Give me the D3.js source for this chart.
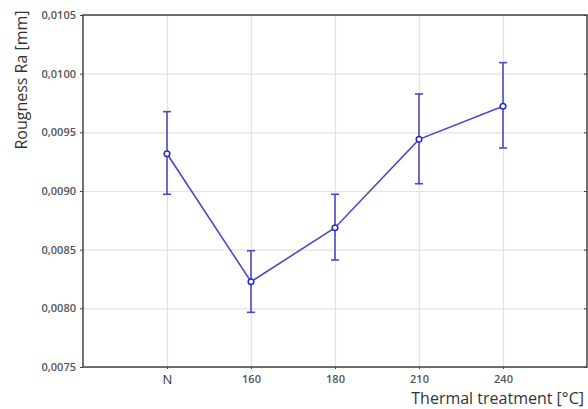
<!DOCTYPE html>
<html>
<head>
<meta charset="utf-8">
<script src="https://d3js.org/d3.v7.min.js"></script>
<style>
  body { margin: 0; background: #fff; }
  .grid line { stroke: #e2e2e2; stroke-width: 1.2px; }
  .grid path { display: none; }
  .axis text { font-family: "Open Sans", sans-serif; font-size: 11px; font-weight: 600; fill: #555; }
  .axis path, .axis line { stroke: #444; }
  .lbl { font-family: "Open Sans", sans-serif; font-size: 16px; fill: #333; }
</style>
</head>
<body>
<svg width="588" height="409"></svg>
<script>
// data
var treatments = ["N", "160", "180", "210", "240"];
var means = [0.009318, 0.008227, 0.008687, 0.009440, 0.009722];
var upper = [0.009676, 0.008491, 0.008972, 0.009827, 0.010094];
var lower = [0.008972, 0.007966, 0.008412, 0.009062, 0.009367];
var yTicks = [0.0075, 0.0080, 0.0085, 0.0090, 0.0095, 0.0100, 0.0105];

var svg = d3.select("svg"),
    margin = {top: 15, right: 1, bottom: 42, left: 83},
    width = +svg.attr("width") - margin.left - margin.right,
    height = +svg.attr("height") - margin.top - margin.bottom,
    g = svg.append("g").attr("transform", "translate(" + margin.left + "," + margin.top + ")");

var x = d3.scalePoint().domain(treatments).range([0, width]).padding(1);
var y = d3.scaleLinear().domain([0.0075, 0.0105]).range([height, 0]);

var fmt = function(d) { return d3.format(".4f")(d).replace(".", ","); };

// grid
g.append("g").attr("class", "grid")
    .call(d3.axisLeft(y).tickValues(yTicks).tickSize(-width).tickFormat(""));
g.append("g").attr("class", "grid")
    .attr("transform", "translate(0," + height + ")")
    .call(d3.axisBottom(x).tickSize(-height).tickFormat(""));

// frame
g.append("rect").attr("width", width).attr("height", height)
    .attr("fill", "none").attr("stroke", "#444").attr("stroke-width", 1.5);

g.append("g").attr("class", "axis")
    .call(d3.axisLeft(y).tickValues(yTicks).tickSize(3).tickPadding(4).tickFormat(fmt))
    .call(function(a) { a.select(".domain").remove(); });
g.append("g").attr("class", "axis")
    .attr("transform", "translate(" + width + ",0)")
    .call(d3.axisLeft(y).tickValues(yTicks).tickSize(3).tickFormat(""))
    .call(function(a) { a.select(".domain").remove(); });
g.append("g").attr("class", "axis")
    .attr("transform", "translate(0," + height + ")")
    .call(d3.axisBottom(x).tickSize(2).tickPadding(6))
    .call(function(a) { a.select(".domain").remove(); })
    .selectAll("text").filter(function(d) { return d === "N"; })
    .style("font-size", "13px").style("font-weight", "400").style("fill", "#333");

var col = "#4a4ac8";
var pts = treatments.map(function(t, i) { return {t: t, m: means[i], hi: upper[i], lo: lower[i]}; });

// error bars
var eb = g.selectAll(".eb").data(pts).enter().append("g").attr("class", "eb")
    .attr("stroke", col).attr("stroke-width", 1.6);
eb.append("line")
    .attr("x1", function(d) { return x(d.t); }).attr("x2", function(d) { return x(d.t); })
    .attr("y1", function(d) { return y(d.hi); }).attr("y2", function(d) { return y(d.lo); });
eb.append("line")
    .attr("x1", function(d) { return x(d.t) - 4; }).attr("x2", function(d) { return x(d.t) + 4; })
    .attr("y1", function(d) { return y(d.hi); }).attr("y2", function(d) { return y(d.hi); });
eb.append("line")
    .attr("x1", function(d) { return x(d.t) - 4; }).attr("x2", function(d) { return x(d.t) + 4; })
    .attr("y1", function(d) { return y(d.lo); }).attr("y2", function(d) { return y(d.lo); });

var line = d3.line().x(function(d) { return x(d.t); }).y(function(d) { return y(d.m); });
g.append("path").datum(pts).attr("d", line)
    .attr("fill", "none").attr("stroke", col).attr("stroke-width", 1.6);

g.selectAll(".pt").data(pts).enter().append("circle")
    .attr("cx", function(d) { return x(d.t); }).attr("cy", function(d) { return y(d.m); })
    .attr("r", 2.8).attr("fill", "#fff").attr("stroke", "#2828c0").attr("stroke-width", 1.5);

svg.append("text").attr("class", "lbl")
    .attr("transform", "translate(27,80) rotate(-90)")
    .attr("text-anchor", "middle").text("Rougness Ra [mm]");
svg.append("text").attr("class", "lbl")
    .attr("x", 584).attr("y", 404)
    .attr("text-anchor", "end").text("Thermal treatment [°C]");
</script>
</body>
</html>
